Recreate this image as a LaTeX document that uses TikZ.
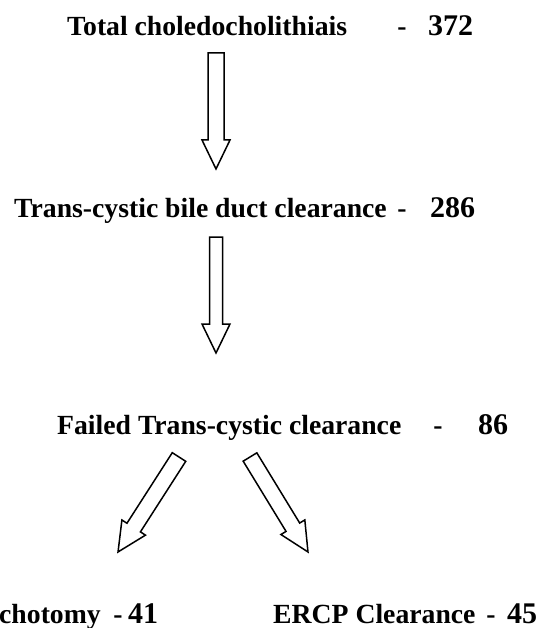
\documentclass[tikz,border=0pt]{standalone}
\usepackage{fontspec}
\setmainfont{Liberation Serif}
\usetikzlibrary{calc}
\tikzset{
  lbl/.style={anchor=base west, inner sep=0pt, font=\fontsize{27.7pt}{30pt}\selectfont\bfseries},
  num/.style={anchor=base west, inner sep=0pt, font=\fontsize{30pt}{32pt}\selectfont\bfseries},
  dsh/.style={anchor=base, inner sep=0pt, font=\fontsize{27.7pt}{30pt}\selectfont\bfseries},
  arrowline/.style={draw=black, line width=1.5pt, line join=miter, fill=white}
}
% #1 = half width of the shaft, #2 = tail, #3 = tip
\newcommand\blockarrow[3][8pt]{%
  \draw[arrowline] let \p1=($(#3)-(#2)$), \n1={atan2(\y1,\x1)}, \n2={veclen(\x1,\y1)} in
   [shift={(#2)}, rotate=\n1]
   (0pt,-#1) -- (\n2-29pt,-#1) -- (\n2-29pt,-14pt) -- (\n2,0pt)
   -- (\n2-29pt,14pt) -- (\n2-29pt,#1) -- (0pt,#1) -- cycle;}
\begin{document}
\begin{tikzpicture}[x=1pt,y=-1pt]
\useasboundingbox (0,0) rectangle (551,628);
% row 1
\node[lbl] (t1) at (67,36) {Total choledocholithiais};
\node[dsh] (d1) at (402,36) {-};
\node[num] (n1) at (428,36) {372};
% row 2
\node[lbl] (t2) at (14,218) {Trans-cystic bile duct clearance};
\node[dsh] (d2) at (402,218) {-};
\node[num] (n2) at (430,218) {286};
% row 3
\node[lbl] (t3) at (57,434) {Failed Trans-cystic clearance};
\node[dsh] (d3) at (438,434) {-};
\node[num] (n3) at (478,434) {86};
% row 4
\node[lbl] (t4) at (-1,623) {chotomy};
\node[dsh] (d4) at (118,623) {-};
\node[num] (n4) at (128,623) {41};
\node[lbl] (t5) at (273,623) {ERCP Clearance};
\node[dsh] (d5) at (491,623) {-};
\node[num] (n5) at (507,623) {45};
% arrow end points
\coordinate (a1s) at (216,53);
\coordinate (a1e) at (216,169);
\coordinate (a2s) at (216,237);
\coordinate (a2e) at (216,353);
\coordinate (a3s) at (179,457);
\coordinate (a3e) at (118,552);
\coordinate (a4s) at (250,457);
\coordinate (a4e) at (308,552);
\blockarrow[8pt]{a1s}{a1e}
\blockarrow[6.5pt]{a2s}{a2e}
\blockarrow[8pt]{a3s}{a3e}
\blockarrow[8pt]{a4s}{a4e}
\end{tikzpicture}
\end{document}
